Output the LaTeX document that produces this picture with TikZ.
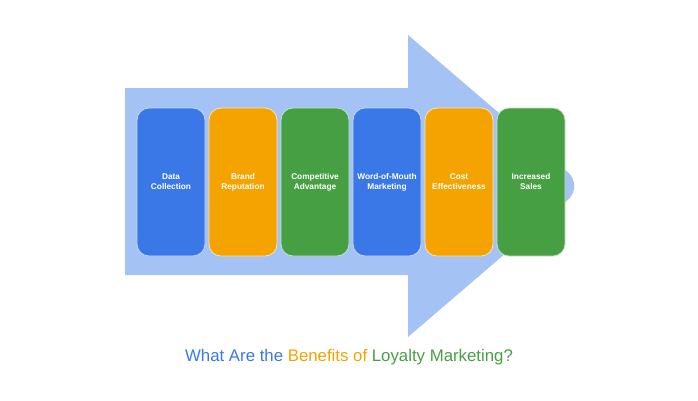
\documentclass[tikz,border=0pt]{standalone}
\usepackage{fontspec}
\setmainfont{Liberation Sans}
\definecolor{cblue}{HTML}{3B78E7}
\definecolor{corange}{HTML}{F4A300}
\definecolor{cgreen}{HTML}{46A043}
\definecolor{carrow}{HTML}{A4C2F4}
\begin{document}
\begin{tikzpicture}[x=1pt,y=-1pt,
  card/.style={rounded corners=12pt,minimum width=68pt,minimum height=148pt,draw=white!70!#1,fill=#1,line width=0.8pt,text=white,font=\bfseries\fontsize{8.3}{10}\selectfont,align=center,inner sep=1pt}]
\useasboundingbox (0,0) rectangle (698,400);
\fill[carrow] (125,88) -- (408,88) -- (408,35) {[rounded corners=22pt] -- (584,186)} -- (408,337) -- (408,275) -- (125,275) -- cycle;
\node[card=cblue] (a) at (171,182) {Data\\Collection};
\node[card=corange] (b) at (243,182) {Brand\\Reputation};
\node[card=cgreen] (c) at (315,182) {Competitive\\Advantage};
\node[card=cblue] (d) at (387,182) {Word-of-Mouth\\Marketing};
\node[card=corange] (e) at (459,182) {Cost\\Effectiveness};
\node[card=cgreen] (f) at (531,182) {Increased\\Sales};
\node[font=\fontsize{16.8}{19}\selectfont] (t) at (349,357) {\textcolor{cblue}{What Are the }\textcolor{corange}{Benefits of }\textcolor{cgreen}{Loyalty Marketing?}};
\end{tikzpicture}
\end{document}
